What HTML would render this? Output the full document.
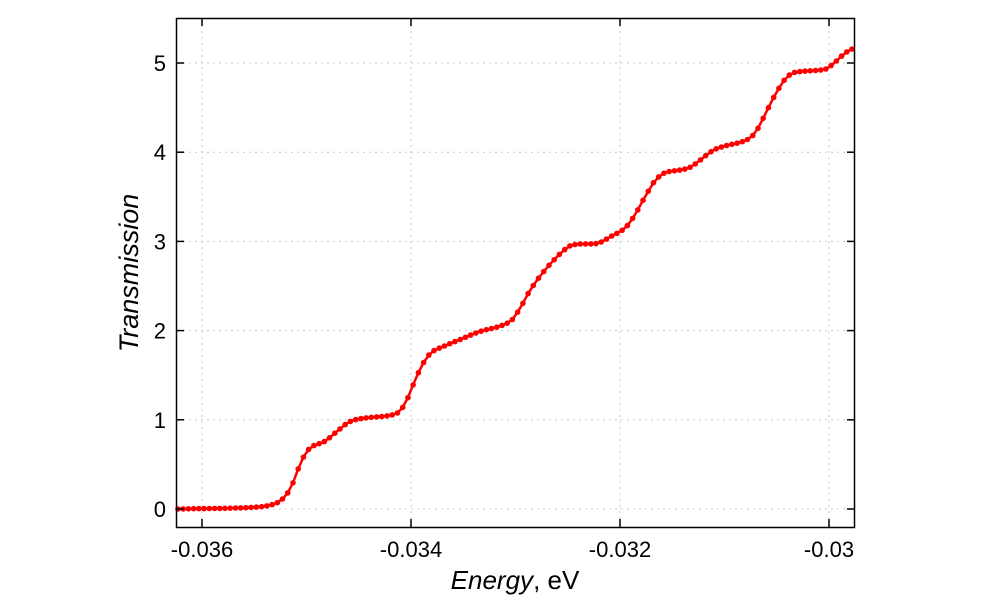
<!DOCTYPE html>
<html><head><meta charset="utf-8"><style>
body{margin:0;background:#fff;}
svg text{font-family:"Liberation Sans",sans-serif;font-size:22px;fill:#000;}
</style></head><body>
<svg id="s" width="1000" height="600" xmlns="http://www.w3.org/2000/svg">
<rect x="0" y="0" width="1000" height="600" fill="#fff"/>
<g id="grid" stroke="#c8c8c8" stroke-width="1" stroke-dasharray="2,4"></g>
<g id="data"></g>
<rect x="176.5" y="18.5" width="678" height="509" fill="none" stroke="#000" stroke-width="1.5"/>
<g id="ticks" stroke="#000" stroke-width="1.5"></g>
<g id="labels"></g>
<text x="515" y="589" text-anchor="middle" style="font-size:26px"><tspan font-style="italic">Energy</tspan>, eV</text>
<text transform="translate(138,273) rotate(-90)" text-anchor="middle" style="font-size:27px;font-style:italic">Transmission</text>
</svg>
<script>
var NS="http://www.w3.org/2000/svg";
function el(p,t,a,txt){var e=document.createElementNS(NS,t);for(var k in a)e.setAttribute(k,a[k]);if(txt!=null)e.textContent=txt;document.getElementById(p).appendChild(e);return e;}
function Y(t){return 509-t*89.2;}
var xs=[202,411,620,829],xl=["-0.036","-0.034","-0.032","-0.03"];
for(var i=0;i<4;i++){var x=xs[i];
el("grid","line",{x1:x,y1:19,x2:x,y2:527});
el("ticks","line",{x1:x,y1:527,x2:x,y2:519});el("ticks","line",{x1:x,y1:18,x2:x,y2:26});
el("labels","text",{x:x,y:557,"text-anchor":"middle"},xl[i]);}
for(var t=0;t<=5;t++){var y=Y(t);
el("grid","line",{x1:177,y1:y,x2:854,y2:y});
el("ticks","line",{x1:176,y1:y,x2:184,y2:y});el("ticks","line",{x1:855,y1:y,x2:847,y2:y});
el("labels","text",{x:166,y:y+8,"text-anchor":"end"},String(t));}
var P=[[178,0],[255,0.02],[275,0.06],[285,0.14],[292,0.27],[300,0.5],[306,0.63],[312,0.7],[325,0.76],[338,0.88],[350,0.98],[365,1.02],[390,1.05],[400,1.1],[408,1.25],[416,1.47],[424,1.65],[432,1.76],[445,1.83],[460,1.9],[480,1.99],[500,2.05],[512,2.12],[520,2.25],[530,2.45],[545,2.68],[560,2.86],[570,2.95],[580,2.97],[598,2.98],[610,3.05],[625,3.15],[635,3.3],[645,3.5],[655,3.68],[665,3.77],[680,3.8],[690,3.83],[700,3.91],[713,4.02],[725,4.07],[740,4.11],[750,4.16],[757,4.25],[765,4.42],[772,4.58],[776,4.66],[783,4.79],[790,4.87],[797,4.9],[825,4.93],[832,4.98],[845,5.11],[854,5.17]];
function f(x){for(var i=0;i<P.length-1;i++){if(x<=P[i+1][0]){var a=P[Math.max(i-1,0)],b=P[i],c=P[i+1],d=P[Math.min(i+2,P.length-1)];var u=(x-b[0])/(c[0]-b[0]);
var m1=(c[1]-a[1])/(c[0]-a[0])*(c[0]-b[0]),m2=(d[1]-b[1])/(d[0]-b[0])*(c[0]-b[0]);
var h00=2*u*u*u-3*u*u+1,h10=u*u*u-2*u*u+u,h01=-2*u*u*u+3*u*u,h11=u*u*u-u*u;return h00*b[1]+h10*m1+h01*c[1]+h11*m2;}}return P[P.length-1][1];}
var pts=[];for(var x=178;x<=855;x+=5.225){pts.push([x,Y(f(x))]);}
el("data","polyline",{points:pts.map(function(p){return p[0].toFixed(1)+","+p[1].toFixed(1)}).join(" "),fill:"none",stroke:"#ff0000","stroke-width":2.5});
pts.forEach(function(p){el("data","circle",{cx:p[0].toFixed(1),cy:p[1].toFixed(1),r:2.8,fill:"#ff0000"});});
</script>
</body></html>
